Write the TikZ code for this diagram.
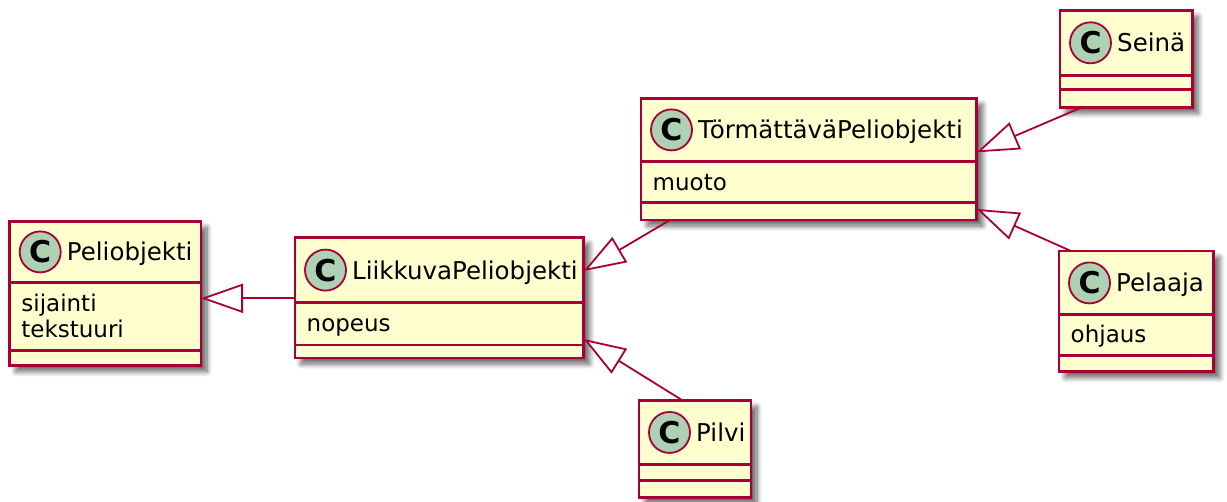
\documentclass[tikz,border=0pt]{standalone}
\usepackage{fontspec}
\setmainfont{DejaVu Sans}
\usetikzlibrary{arrows.meta,shadows.blur}

\definecolor{umlborder}{HTML}{A80036}
\definecolor{umlfill}{HTML}{FEFECE}
\definecolor{umlcircle}{HTML}{ADD1B2}

\tikzset{
  classbox/.style={rectangle, draw=umlborder, line width=2.8pt, fill=umlfill,
    inner sep=0pt, outer sep=0pt, anchor=north west,
    blur shadow={shadow xshift=6pt, shadow yshift=-6pt, shadow blur radius=5pt,
      shadow blur steps=12, shadow opacity=60}},
  divider/.style={draw=umlborder, line width=2.8pt},
  classicon/.style={circle, draw=umlborder, line width=1.8pt, fill=umlcircle,
    minimum size=41pt, inner sep=0pt, font=\fontsize{30}{30}\selectfont\bfseries},
  classname/.style={anchor=base west, inner sep=0pt, font=\fontsize{24.5}{29}\selectfont},
  member/.style={anchor=base west, inner sep=0pt, font=\fontsize{23}{26}\selectfont},
  extends/.style={draw=umlborder, line width=1.8pt,
    -{Triangle[length=42pt, width=29pt, fill=white]}},
}

% #1 name, #2 left, #3 right, #4 top, #5 first divider, #6 second divider, #7 bottom, #8 title
\newcommand\umlclass[8]{%
  \node[classbox, minimum width={#3-#2}, minimum height={#7-#4}] (#1) at (#2,#4) {};
  \draw[divider] (#2,#5) -- (#3,#5) (#2,#6) -- (#3,#6);
  \node[classicon] (#1-icon) at ({#2+30.5},{(#4+#5)/2}) {C};
  \node[classname] (#1-name) at ({#2+57},{(#4+#5)/2+9}) {#8};
}

\begin{document}
\begin{tikzpicture}[x=1pt, y=-1pt]
  \useasboundingbox (0,0) rectangle (1227,501);

  % classes
  \umlclass{peli}{9.7}{201}{221.3}{282.5}{350.7}{365.7}{Peliobjekti}
  \node[member] (peli-a1) at (21.2,311.5) {sijainti};
  \node[member] (peli-a2) at (21.2,337.5) {tekstuuri};

  \umlclass{liik}{295}{583.7}{237.7}{302.5}{345}{358}{LiikkuvaPeliobjekti}
  \node[member] (liik-a1) at (306.5,331.5) {nopeus};

  \umlclass{torm}{641}{976.7}{98.3}{161.5}{202.3}{220}{TörmättäväPeliobjekti}
  \node[member] (torm-a1) at (652.5,190) {muoto};

  \umlclass{seina}{1060}{1192.3}{10.3}{75.3}{89.8}{107.3}{Seinä}

  \umlclass{pelaaja}{1059}{1213.7}{251}{314.8}{355.5}{371.7}{Pelaaja}
  \node[member] (pelaaja-a1) at (1070.5,342.5) {ohjaus};

  \umlclass{pilvi}{639}{751}{400.7}{464.2}{480.2}{497.7}{Pilvi}

  % generalisations
  \draw[extends] ([yshift=-60.6pt]liik.north west) -- ([yshift=-77pt]peli.north east);
  \draw[extends] ([xshift=29pt]torm.south west) -- ([yshift=-33.3pt]liik.north east);
  \draw[extends] ([xshift=44pt]pilvi.north west) -- ([yshift=-101.3pt]liik.north east);
  \draw[extends] ([xshift=22pt]seina.south west) -- ([yshift=-54pt]torm.north east);
  \draw[extends] ([xshift=12pt]pelaaja.north west) -- ([yshift=-110.7pt]torm.north east);
\end{tikzpicture}
\end{document}
